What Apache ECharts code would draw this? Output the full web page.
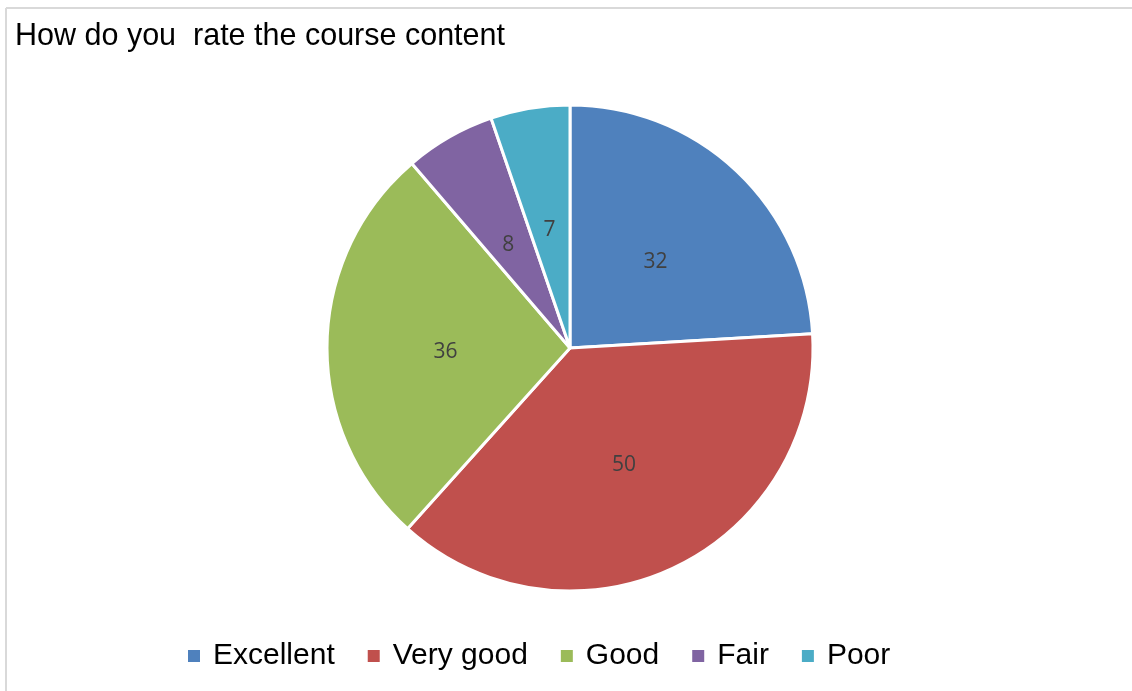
<!DOCTYPE html>
<html>
<head>
<meta charset="utf-8">
<script src="https://cdn.jsdelivr.net/npm/echarts@6/dist/echarts.min.js"></script>
<style>
html,body{margin:0;padding:0;background:#fff;}
#chart{width:1132px;height:691px;}
</style>
</head>
<body>
<div id="chart"></div>
<script>
const titleText = 'How do you  rate the course content';
const categories = ['Excellent', 'Very good', 'Good', 'Fair', 'Poor'];
const values = [32, 50, 36, 8, 7];
const colors = ['#4F81BD', '#C0504D', '#9BBB59', '#8064A2', '#4BACC6'];

const chart = echarts.init(document.getElementById('chart'), null, {renderer: 'canvas'});
chart.setOption({
  backgroundColor: '#ffffff',
  animation: false,
  color: colors,
  title: {
    text: titleText,
    left: 10,
    top: 16,
    textStyle: {fontFamily: 'Liberation Sans, Arial, sans-serif', fontSize: 30.5, fontWeight: 'normal', color: '#000'}
  },
  legend: {
    data: categories,
    left: 181,
    top: 636,
    icon: 'rect',
    itemWidth: 14,
    itemHeight: 14,
    itemGap: 31,
    textStyle: {fontFamily: 'Liberation Sans, Arial, sans-serif', fontSize: 30, color: '#000', padding: [0,0,0,7]}
  },
  graphic: [
    {type: 'line', shape: {x1: 6, y1: 8, x2: 1132, y2: 8}, style: {stroke: '#d9d9d9', lineWidth: 2}},
    {type: 'line', shape: {x1: 6, y1: 8, x2: 6, y2: 691}, style: {stroke: '#d9d9d9', lineWidth: 2}}
  ],
  series: [{
    type: 'pie',
    center: [570, 348],
    radius: [0, 243],
    startAngle: 90,
    clockwise: true,
    data: categories.map((c, i) => ({name: c, value: values[i]})),
    itemStyle: {borderColor: '#fff', borderWidth: 3},
    label: {
      show: true,
      position: 'inside',
      formatter: '{c}',
      fontFamily: 'Open Sans, Liberation Sans, sans-serif',
      fontSize: 21,
      color: '#404040',
      offset: [0, 5]
    },
    labelLine: {show: false},
    emphasis: {disabled: true}
  }]
});
</script>
</body>
</html>
